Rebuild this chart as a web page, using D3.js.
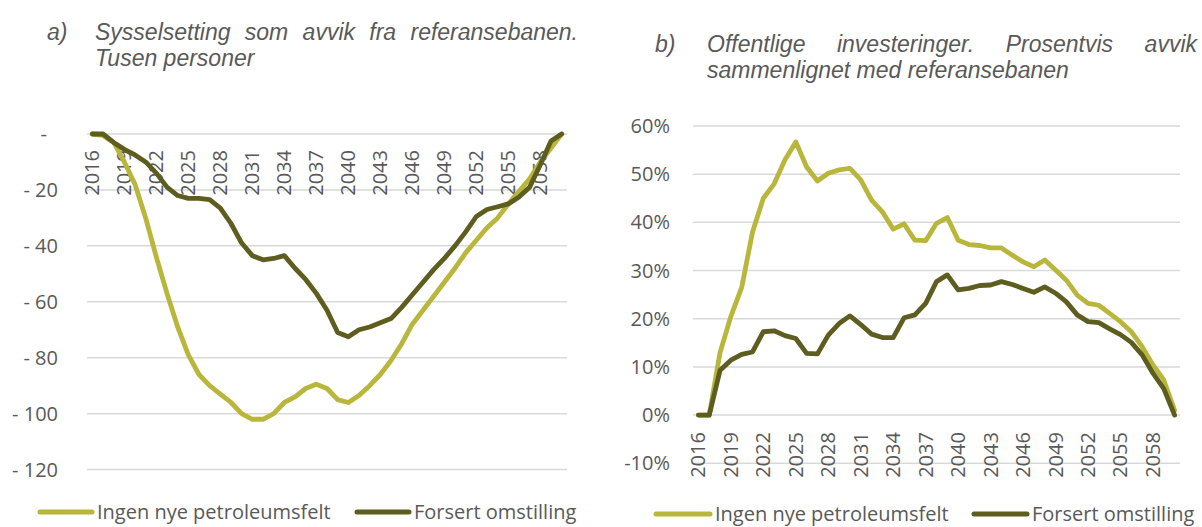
<!DOCTYPE html>
<html><head><meta charset="utf-8">
<script src="https://cdn.jsdelivr.net/npm/d3@7"></script>
<style>
html,body{margin:0;padding:0;background:#fff;overflow:hidden}
text{font-family:"Open Sans",sans-serif;fill:#595959}
.title{font-family:"Liberation Sans",Arial,sans-serif;font-style:italic}
</style></head>
<body><svg id="c" width="1202" height="527"></svg>
<script>
const years = d3.range(2016, 2061);
const tickYears = [2016,2019,2022,2025,2028,2031,2034,2037,2040,2043,2046,2049,2052,2055,2058];
const seriesNames = ["Ingen nye petroleumsfelt", "Forsert omstilling"];

// a) Employment deviation, thousand persons
const employmentIngen = [0,-0.5,-3,-10,-18,-30,-44,-57,-69,-79,
  -86,-90,-93,-96,-100,-102,-102,-100,-96,-94,
  -91,-89.5,-91,-95,-96,-93.5,-90,-86,-81,-75,
  -68,-63,-58,-53,-48,-42.5,-38,-33.5,-30,-25,
  -20.5,-16,-10,-5,0];
const employmentForsert = [0,0,-3,-5.5,-7.5,-10,-14,-19,-22,-23,
  -23,-23.5,-26.5,-32,-39,-43.5,-45,-44.5,-43.5,-48,
  -52,-57,-63,-71,-72.5,-70,-69,-67.5,-66,-62,
  -57.5,-53,-48.5,-44.5,-40,-35,-29.5,-27,-26,-25,
  -22.5,-19,-11,-2.5,0];
const employmentTicks = [0,-20,-40,-60,-80,-100,-120];
const employmentTickLabels = ["-","- 20","- 40","- 60","- 80","- 100","- 120"];

// b) Public investments, percent deviation
const investIngen = [0,0,13,20.5,26.5,38,45,48,53,56.7,
  51.5,48.6,50.2,50.9,51.2,48.8,44.6,42.2,38.6,39.7,
  36.3,36.2,39.8,41,36.3,35.4,35.2,34.7,34.7,33.2,
  31.8,30.8,32.2,30.1,28,24.9,23.2,22.8,21.1,19.4,
  17.3,14.2,10.4,7.3,1];
const investForsert = [0,0,9.3,11.4,12.6,13.1,17.3,17.5,16.5,15.9,
  12.8,12.7,16.6,19,20.6,18.8,16.8,16.1,16.1,20.2,
  20.8,23.2,27.7,29.1,26,26.3,26.9,27,27.7,27.1,
  26.3,25.5,26.6,25.3,23.5,20.8,19.4,19.2,17.9,16.7,
  15.1,12.5,8.7,5.5,0];
const investTicks = [-10,0,10,20,30,40,50,60];
const investTickLabels = ["-10%","0%","10%","20%","30%","40%","50%","60%"];

const colors = ["#B9B63C", "#5D5D1F"];
const svg = d3.select("#c");
const FS = 20;

function justified(lines, x0, x1, y0, lh, size){
  const g = svg.append("g");
  lines.forEach((ln, i) => {
    const words = ln.text.split(" ");
    const y = y0 + i*lh;
    if (!ln.justify){
      g.append("text").attr("class","title").attr("x",x0).attr("y",y).attr("font-size",size).text(ln.text);
      return;
    }
    const els = words.map(w => g.append("text").attr("class","title").attr("y",y).attr("font-size",size).text(w));
    const widths = els.map(e => e.node().getComputedTextLength());
    const total = d3.sum(widths);
    const gap = Math.max(4, (x1 - x0 - total) / (words.length - 1));
    let x = x0;
    els.forEach((e, k) => { e.attr("x", x); x += widths[k] + gap; });
  });
}

function chart(opt){
  const x = d3.scalePoint().domain(years).range([opt.x0, opt.x1]).padding(0.5);
  const y = d3.scaleLinear().domain(opt.domain).range([opt.yb, opt.yt]);
  const g = svg.append("g");
  g.selectAll("line.grid").data(opt.ticks).join("line")
    .attr("x1", opt.x0).attr("x2", opt.x1)
    .attr("y1", d => y(d)).attr("y2", d => y(d))
    .attr("stroke", "#D9D9D9").attr("stroke-width", 1.5);
  g.selectAll("text.yl").data(opt.ticks).join("text")
    .attr("x", opt.ylx).attr("y", d => y(d)).attr("dy", "0.35em")
    .attr("dx", d => opt.zeroDx && d === 0 ? opt.zeroDx : 0)
    .attr("text-anchor", "end").attr("font-size", FS)
    .text((d,i) => opt.tickLabels[i]);
  const yAxis = y(0) + opt.labelGap;
  g.selectAll("text.xl").data(tickYears).join("text")
    .attr("transform", d => `translate(${x(d)},${yAxis}) rotate(-90)`)
    .attr("dy", "0.35em").attr("text-anchor", "end").attr("font-size", FS)
    .text(d => d);
  const line = d3.line().x((d,i) => x(years[i])).y(d => y(d));
  opt.series.forEach((s, k) => {
    g.append("path").datum(s).attr("d", line)
      .attr("fill", "none").attr("stroke", colors[k]).attr("stroke-width", 4.8)
      .attr("stroke-linejoin", "round").attr("stroke-linecap", "round");
  });
  opt.legend.forEach((L, k) => {
    g.append("line").attr("x1", L.x).attr("x2", L.x + L.w).attr("y1", opt.legY).attr("y2", opt.legY)
      .attr("stroke", colors[k]).attr("stroke-width", 5).attr("stroke-linecap", "round");
    g.append("text").attr("x", L.x + L.w + 5).attr("y", opt.legY).attr("dy", "0.35em")
      .attr("font-size", FS).text(seriesNames[k]);
  });
}

chart({x0:87, x1:567, domain:[-120,0], yb:469.6, yt:134, ticks:employmentTicks,
  tickLabels:employmentTickLabels, ylx:58, zeroDx:-11, labelGap:16,
  series:[employmentIngen, employmentForsert], legY:512,
  legend:[{x:40,w:52},{x:357,w:52}]});

chart({x0:693, x1:1180, domain:[-10,60], yb:463.3, yt:126, ticks:investTicks,
  tickLabels:investTickLabels, ylx:670, labelGap:17,
  series:[investIngen, investForsert], legY:514,
  legend:[{x:656,w:54},{x:974,w:53}]});

svg.append("text").attr("class","title").attr("x",47).attr("y",40).attr("font-size",23).text("a)");
justified([{text:"Sysselsetting som avvik fra referansebanen.", justify:true},{text:"Tusen personer"}], 95, 578, 40, 26, 23);
svg.append("text").attr("class","title").attr("x",655).attr("y",52).attr("font-size",23).text("b)");
justified([{text:"Offentlige investeringer. Prosentvis avvik", justify:true},{text:"sammenlignet med referansebanen"}], 707, 1197, 52, 26, 23);
</script></body></html>
